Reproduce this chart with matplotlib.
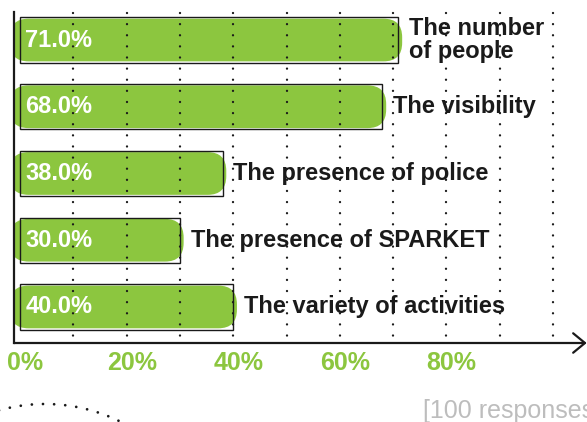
# horizontal bar chart of survey answers, hand-drawn look

import numpy as np
import matplotlib.pyplot as plt
from matplotlib.patches import FancyBboxPatch
from matplotlib.lines import Line2D

categories = ['The number\nof people', 'The visibility', 'The presence of police',
              'The presence of SPARKET', 'The variety of activities']
values = [71.0, 68.0, 38.0, 30.0, 40.0]
tick_values = [0, 20, 40, 60, 80]
tick_labels = ['0%', '20%', '40%', '60%', '80%']
grid_values = [10, 20, 30, 40, 50, 60, 70, 80, 90, 100]
footer = '[100 responses]'

green = '#8cc63f'
ink = '#1a1a1a'

plt.rcParams['font.family'] = ['Liberation Sans', 'DejaVu Sans']

W, H = 587, 422
fig = plt.figure(figsize=(W / 100, H / 100), dpi=100)

# axes placed in pixels: left 14, right 585, top 12, bottom 343
ax = fig.add_axes([14 / W, (H - 343) / H, 571 / W, 331 / H])
ax.set_xlim(-1.125, 106.0)
ax.set_ylim(4.54, -0.42)
ax.axis('off')

# px per unit, to keep the rounded corners round
px_x = 571 / 107.125
px_y = 331 / 4.96

for i, v in enumerate(values):
    # green blob
    blob = FancyBboxPatch((-1.9, i - 0.32), v + 2.6, 0.64,
                          boxstyle='round,pad=0,rounding_size=3.5',
                          mutation_aspect=px_x / px_y,
                          facecolor=green, edgecolor='none', zorder=1)
    ax.add_patch(blob)
    # thin outline
    ax.barh(i, v, left=0, height=0.68, fill=False, edgecolor=ink, linewidth=1.0, zorder=3)
    ax.text(1.0, i, f'{v:.1f}%', color='white', fontsize=17, fontweight='bold',
            va='center', ha='left', zorder=4)
    ax.text(v + 2, i, categories[i], color=ink, fontsize=17, fontweight='bold',
            va='center', ha='left', linespacing=0.95, zorder=4)

# dotted gridlines
for g in grid_values:
    ax.plot([g, g], [-0.4, 4.54], color=ink, linewidth=1.7, linestyle=(0, (0.01, 4.7)),
            dash_capstyle='round', zorder=2, clip_on=False)

# axes lines
ax.plot([0, 0], [0, 1], transform=ax.transAxes, color=ink, linewidth=1.6,
        clip_on=False, zorder=5)
ax.annotate('', xy=(1.003, 0), xytext=(0, 0), xycoords='axes fraction',
            arrowprops=dict(arrowstyle='->,head_length=0.85,head_width=0.7',
                            color=ink, linewidth=1.6, mutation_scale=10,
                            shrinkA=0, shrinkB=0), zorder=5)

# tick labels
for t, lab in zip(tick_values, tick_labels):
    ax.text(t + 1, 4.54 + 0.3, lab, color=green, fontsize=18, fontweight='bold',
            ha='center', va='center', clip_on=False)

# footer
fig.text(423 / W, 1 - 411 / H, footer, color='#bdbdbd', fontsize=18,
         ha='left', va='center')

# dotted arc bottom left
theta = np.radians(np.linspace(107, 62, 60))
cx, cy, r = 45, -152, 170
xs = (cx + r * np.cos(theta)) / W
ys = (cy + r * np.sin(theta)) / H
fig.add_artist(Line2D(xs, ys, transform=fig.transFigure, color=ink, linewidth=2.0,
                      linestyle=(0, (0.01, 4)), dash_capstyle='round'))

fig.savefig('out.png', dpi=100)
